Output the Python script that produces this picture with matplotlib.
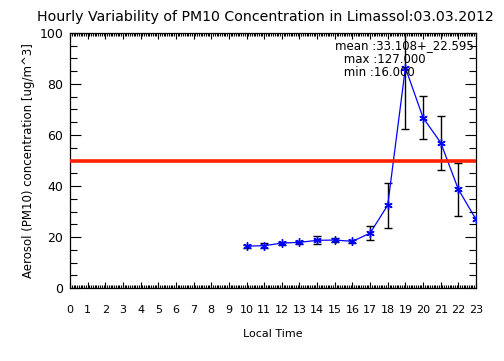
import numpy as np
import matplotlib
matplotlib.use('Agg')
import matplotlib.pyplot as plt
from matplotlib.ticker import MultipleLocator


hours = [10, 11, 12, 13, 14, 15, 16, 17, 18, 19, 20, 21, 22, 23]
pm10 = [16.4, 16.6, 17.6, 17.9, 18.7, 18.8, 18.3, 21.5, 32.5, 86.4, 66.8, 57.0, 38.7, 26.9]
pm10_err = [0.6, 1.0, 0.6, 0.6, 1.6, 0.8, 0.6, 2.7, 8.8, 24.0, 8.3, 10.6, 10.4, np.nan]
limit = 50
stats_text = ['mean :33.108+_22.595', ' max :127.000', ' min :16.000']
title = 'Hourly Variability of PM10 Concentration in Limassol:03.03.2012'


fig = plt.figure(figsize=(5.04, 3.61), dpi=100)
ax = fig.add_axes([70 / 504, 73 / 361, 406 / 504, 255 / 361])

# error bars (black) only where we have a value
h = np.array(hours, dtype=float)
v = np.array(pm10)
e = np.array(pm10_err)
ok = np.isfinite(e)
ax.errorbar(h[ok], v[ok], yerr=e[ok], fmt='none', ecolor='black',
            elinewidth=1.0, capsize=3, capthick=1.0, zorder=2)

# the hourly means
ax.plot(hours, pm10, color='#0000ff', linewidth=0.9, marker=(6, 2, 0),
        markersize=6, markeredgewidth=1.0, zorder=3)

# EU daily limit
ax.axhline(limit, color='#ff2000', linewidth=2.6, zorder=4)

ax.set_xlim(0, 23)
ax.set_ylim(0, 100)
ax.xaxis.set_major_locator(MultipleLocator(1))
ax.xaxis.set_minor_locator(MultipleLocator(0.1))
ax.yaxis.set_major_locator(MultipleLocator(20))
ax.yaxis.set_minor_locator(MultipleLocator(5))

ax.tick_params(which='both', direction='in', top=True, right=True, width=0.8)
ax.tick_params(axis='x', which='major', length=4, pad=12, labelsize=8)
ax.tick_params(axis='x', which='minor', length=2)
ax.tick_params(axis='y', which='major', length=8, pad=5, labelsize=9)
ax.tick_params(axis='y', which='minor', length=5)
for s in ax.spines.values():
    s.set_linewidth(0.9)

ax.set_xlabel('Local Time', fontsize=8, labelpad=10)
ax.set_ylabel('Aerosol (PM10) concentration [ug/m^3]', fontsize=8.5, labelpad=3)

# title starts at the same place as the original, kept inside the picture
fig.text(37 / 504, 1 - 17 / 361, title, ha='left', va='center', fontsize=10.2)

# statistics box text
ys = [46, 59.5, 73]
xs = [335, 340, 340]
for t, x, y in zip(stats_text, xs, ys):
    fig.text(x / 504, 1 - y / 361, t, ha='left', va='center', fontsize=8.5)

fig.savefig('out.png', dpi=100)
